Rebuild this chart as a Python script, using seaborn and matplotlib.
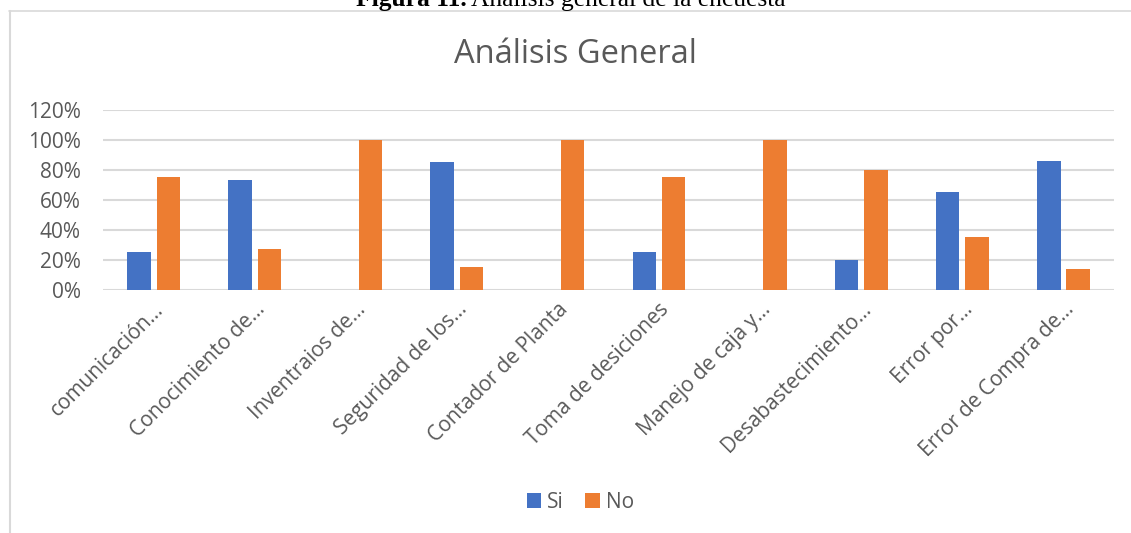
import pandas as pd
import matplotlib
matplotlib.use('Agg')
import matplotlib.pyplot as plt
from matplotlib.lines import Line2D
from matplotlib.ticker import PercentFormatter
from matplotlib.transforms import ScaledTranslation
import seaborn as sns

categorias = ['comunicación…', 'Conocimiento de…', 'Inventraios de…', 'Seguridad de los…',
              'Contador de Planta', 'Toma de desiciones', 'Manejo de caja y…',
              'Desabastecimiento…', 'Error por…', 'Error de Compra de…']
si = [0.25, 0.73, 0.0, 0.85, 0.0, 0.25, 0.0, 0.20, 0.65, 0.86]
no = [0.75, 0.27, 1.00, 0.15, 1.00, 0.75, 1.00, 0.80, 0.35, 0.14]
y_ticks = [0, 0.2, 0.4, 0.6, 0.8, 1.0, 1.2]

df = pd.DataFrame({'Categoria': categorias, 'Si': si, 'No': no})
df = df.melt(id_vars=['Categoria'], var_name='Respuesta', value_name='Valor')

sns.set_theme(style='white')
plt.rcParams['font.family'] = ['Open Sans', 'DejaVu Sans']
gris = '#595959'
linea = '#d9d9d9'

fig = plt.figure(figsize=(11.31, 5.33), dpi=100)
ax = fig.add_axes([0.0911, 0.4565, 0.8939, 0.3371])

sns.barplot(data=df, x='Categoria', y='Valor', hue='Respuesta',
            palette=['#4472C4', '#ED7D31'], saturation=1, width=0.58, gap=0.2,
            linewidth=0, ax=ax, legend=True, zorder=3)

ax.set_ylim(0, 1.2)
ax.set_yticks(y_ticks)
ax.yaxis.set_major_formatter(PercentFormatter(1.0, decimals=0))
ax.set_xlim(-0.5, len(categorias) - 0.5)
ax.grid(axis='y', color=linea, linewidth=1.5, zorder=0)
ax.set_axisbelow(True)
for s in ax.spines.values():
    s.set_visible(False)
ax.set_xlabel('')
ax.set_ylabel('')
ax.tick_params(axis='both', length=0, colors=gris, labelsize=15)
ax.tick_params(axis='y', pad=16)
ax.tick_params(axis='x', pad=12)
desplaza = ScaledTranslation(7 / 100, 0, fig.dpi_scale_trans)
for lbl in ax.get_xticklabels():
    lbl.set_rotation(45)
    lbl.set_ha('right')
    lbl.set_va('center')
    lbl.set_rotation_mode('anchor')
    lbl.set_transform(lbl.get_transform() + desplaza)

handles, labels = ax.get_legend_handles_labels()
ax.get_legend().remove()
fig.legend(handles, labels, loc='center', bbox_to_anchor=(0.513, 0.058), ncol=2,
           frameon=False, fontsize=15, handlelength=0.7, handleheight=0.7,
           handletextpad=0.3, columnspacing=1.0, labelcolor=gris)

fig.text(0.509, 0.898, 'Análisis General', ha='center', va='center',
         fontsize=23.5, color=gris)

# marco del grafico
fig.add_artist(Line2D([0.008, 1.0], [0.979, 0.979], color=linea, linewidth=1.2))
fig.add_artist(Line2D([0.0084, 0.0084], [0.0, 0.979], color=linea, linewidth=1.5))

# pie de figura recortado
fig.text(0.4125, 0.9887, 'Figura 11.', ha='right', va='baseline', fontsize=18.4,
         fontweight='bold', family=['Liberation Serif'], color='black')
fig.text(0.4165, 0.9887, 'Análisis general de la encuesta', ha='left', va='baseline',
         fontsize=18.4, family=['Liberation Serif'], color='black')

fig.savefig('out.png', dpi=100)
